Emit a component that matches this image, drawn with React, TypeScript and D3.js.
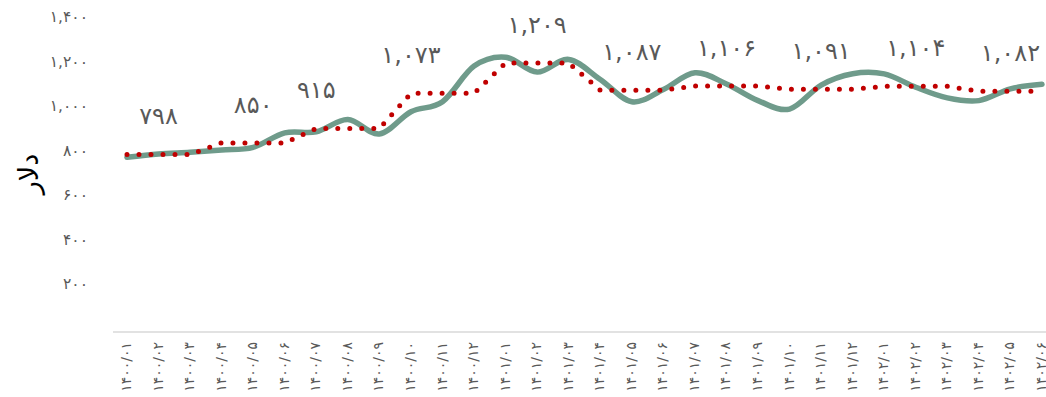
import React from "react";
import * as d3 from "d3";

const categories = [
  "۱۴۰۰/۰۱", "۱۴۰۰/۰۲", "۱۴۰۰/۰۳", "۱۴۰۰/۰۴", "۱۴۰۰/۰۵", "۱۴۰۰/۰۶",
  "۱۴۰۰/۰۷", "۱۴۰۰/۰۸", "۱۴۰۰/۰۹", "۱۴۰۰/۱۰", "۱۴۰۰/۱۱", "۱۴۰۰/۱۲",
  "۱۴۰۱/۰۱", "۱۴۰۱/۰۲", "۱۴۰۱/۰۳", "۱۴۰۱/۰۴", "۱۴۰۱/۰۵", "۱۴۰۱/۰۶",
  "۱۴۰۱/۰۷", "۱۴۰۱/۰۸", "۱۴۰۱/۰۹", "۱۴۰۱/۱۰", "۱۴۰۱/۱۱", "۱۴۰۱/۱۲",
  "۱۴۰۲/۰۱", "۱۴۰۲/۰۲", "۱۴۰۲/۰۳", "۱۴۰۲/۰۴", "۱۴۰۲/۰۵", "۱۴۰۲/۰۶",
];

// monthly price (green smooth line)
const monthlyValues = [
  785, 800, 808, 818, 830, 895, 900, 955, 890, 990, 1035, 1195,
  1235, 1168, 1225, 1135, 1035, 1090, 1165, 1115, 1040, 1002, 1110, 1161,
  1160, 1100, 1052, 1040, 1093, 1113,
];

// quarterly average (red dotted line), one per quarter
const quarterlyValues = [798, 850, 915, 1073, 1209, 1087, 1106, 1091, 1104, 1082];

// month to which each quarterly data label is anchored
const quarterLabelMonths = [
  "۱۴۰۰/۰۲", "۱۴۰۰/۰۵", "۱۴۰۰/۰۷", "۱۴۰۰/۱۰", "۱۴۰۱/۰۲",
  "۱۴۰۱/۰۵", "۱۴۰۱/۰۸", "۱۴۰۱/۱۱", "۱۴۰۲/۰۲", "۱۴۰۲/۰۵",
];

const yTicks = [200, 400, 600, 800, 1000, 1200, 1400];
const yTitle = "دلار";

const faDigits = "۰۱۲۳۴۵۶۷۸۹";
const toFa = (s: string) => s.replace(/[0-9]/g, (d) => faDigits[+d]);
const fmt = (v: number) => toFa(d3.format(",")(v));

export default function App() {
  const W = 1046;
  const H = 397;
  const x = d3.scalePoint<string>().domain(categories).range([127, 1042]);
  const y = d3.scaleLinear().domain([0, 1400]).range([332, 20.5]);

  const green = d3
    .line<number>()
    .x((_, i) => x(categories[i])!)
    .y((d) => y(d))
    .curve(d3.curveCardinal.tension(0));

  const redData = categories.map((_, i) => quarterlyValues[Math.floor(i / 3)]);
  const red = d3
    .line<number>()
    .x((_, i) => x(categories[i])!)
    .y((d) => y(d));

  const font = "'DejaVu Sans', 'Noto Sans', sans-serif";

  return (
    <svg
      width={W}
      height={H}
      style={{ position: "fixed", left: 0, top: 0, background: "#fff" }}
      fontFamily={font}
    >
      {/* y axis tick labels */}
      {yTicks.map((t) => (
        <text
          key={t}
          x={88}
          y={y(t) - 3.5}
          textAnchor="end"
          dominantBaseline="central"
          fontSize={15.5}
          fill="#595959"
        >
          {fmt(t)}
        </text>
      ))}
      {/* y title */}
      <text
        transform={`translate(28,${174}) rotate(-90)`}
        textAnchor="middle"
        dominantBaseline="central"
        fontSize={27}
        fill="#000"
      >
        {yTitle}
      </text>
      {/* x axis line */}
      <line x1={113} x2={W} y1={332} y2={332} stroke="#d9d9d9" strokeWidth={1.5} />
      {/* x labels */}
      {categories.map((c) => (
        <text
          key={c}
          transform={`translate(${x(c)! - 1},${342}) rotate(-90)`}
          textAnchor="end"
          dominantBaseline="central"
          fontSize={14}
          fill="#595959"
        >
          {c}
        </text>
      ))}
      {/* green monthly line */}
      <path
        d={green(monthlyValues) || ""}
        fill="none"
        stroke="#6f9b8b"
        strokeWidth={5.5}
        strokeLinecap="round"
        strokeLinejoin="round"
      />
      {/* red quarterly dotted line */}
      <path
        d={red(redData) || ""}
        fill="none"
        stroke="#c00000"
        strokeWidth={5}
        strokeDasharray="0 12"
        strokeLinecap="round"
      />
      {/* quarterly data labels */}
      {quarterlyValues.map((v, q) => (
        <text
          key={q}
          x={x(quarterLabelMonths[q])!}
          y={y(v) - 38}
          textAnchor="middle"
          dominantBaseline="central"
          fontSize={24}
          fill="#595959"
        >
          {fmt(v)}
        </text>
      ))}
    </svg>
  );
}
